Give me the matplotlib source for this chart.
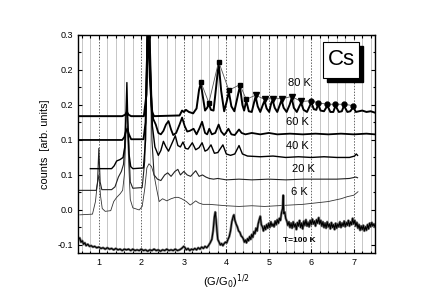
import numpy as np
import matplotlib
matplotlib.use("Agg")
import matplotlib.pyplot as plt
from matplotlib.patches import Rectangle

plt.rcParams['font.family'] = ['Liberation Sans', 'DejaVu Sans']

# spectra (x = (G/G0)^1/2, y = counts, already offset as in the figure)
k80_x = [0.5, 1.55, 1.62, 1.66, 1.70, 1.76, 2.06, 2.12, 2.16, 2.20, 2.25, 2.30, 2.9, 2.96, 3.0, 3.05,
         3.12, 3.22, 3.30, 3.36, 3.40, 3.44, 3.50, 3.55, 3.59, 3.64, 3.70, 3.76, 3.82, 3.88, 3.95,
         4.01, 4.06, 4.12, 4.19, 4.26, 4.32, 4.38, 4.42, 4.47, 4.53, 4.60, 4.66, 4.69, 4.74, 4.80,
         4.86, 4.90, 4.95, 5.01, 5.06, 5.09, 5.14, 5.20, 5.26, 5.30, 5.35, 5.42, 5.49, 5.54, 5.59,
         5.66, 5.72, 5.76, 5.82, 5.90, 5.96, 6.0, 6.06, 6.12, 6.16, 6.22, 6.30, 6.38, 6.45, 6.52,
         6.57, 6.65, 6.72, 6.77, 6.85, 6.92, 6.99, 7.05, 7.2, 7.3, 7.4, 7.5]
k80_y = [0.184, 0.184, 0.186, 0.190, 0.186, 0.184, 0.184, 0.215, 0.32, 0.24, 0.19, 0.184, 0.185, 0.192,
         0.190, 0.193, 0.190, 0.188, 0.195, 0.222, 0.231, 0.215, 0.192, 0.196, 0.201, 0.193, 0.192,
         0.225, 0.260, 0.220, 0.191, 0.205, 0.219, 0.198, 0.191, 0.210, 0.227, 0.200, 0.192, 0.206,
         0.191, 0.190, 0.205, 0.212, 0.198, 0.190, 0.200, 0.206, 0.195, 0.190, 0.203, 0.207, 0.196,
         0.190, 0.200, 0.207, 0.196, 0.190, 0.200, 0.210, 0.196, 0.190, 0.198, 0.203, 0.193, 0.190,
         0.198, 0.204, 0.194, 0.193, 0.201, 0.192, 0.191, 0.199, 0.190, 0.190, 0.199, 0.190, 0.191,
         0.199, 0.190, 0.191, 0.197, 0.190, 0.192, 0.190, 0.191, 0.189]

k60_x = [0.5, 1.55, 1.60, 1.64, 1.67, 1.71, 1.76, 2.05, 2.10, 2.15, 2.20, 2.24, 2.28, 2.34, 2.40,
         2.46, 2.52, 2.58, 2.64, 2.70, 2.75, 2.82, 2.90, 2.96, 3.02, 3.08, 3.14, 3.23, 3.30, 3.37,
         3.43, 3.50, 3.55, 3.60, 3.66, 3.74, 3.82, 3.88, 3.95, 4.00, 4.05, 4.12, 4.20, 4.30, 4.36,
         4.45, 4.6, 4.8, 5.0, 5.2, 5.5, 5.8, 6.1, 6.4, 6.7, 7.0, 7.3, 7.5]
k60_y = [0.150, 0.150, 0.154, 0.163, 0.166, 0.158, 0.151, 0.151, 0.175, 0.32, 0.26, 0.20, 0.180,
         0.172, 0.160, 0.158, 0.163, 0.172, 0.177, 0.165, 0.157, 0.160, 0.172, 0.182, 0.170, 0.162,
         0.163, 0.166, 0.158, 0.167, 0.176, 0.160, 0.158, 0.166, 0.158, 0.160, 0.172, 0.162, 0.157,
         0.161, 0.166, 0.158, 0.157, 0.165, 0.160, 0.158, 0.160, 0.158, 0.160, 0.158, 0.159, 0.158,
         0.159, 0.158, 0.159, 0.158, 0.159, 0.158]

k40_x = [0.80, 1.30, 1.36, 1.42, 1.50, 1.57, 1.61, 1.64, 1.66, 1.68, 1.71, 1.75, 1.80, 2.05, 2.10,
         2.15, 2.20, 2.26, 2.32, 2.40, 2.46, 2.52, 2.58, 2.64, 2.72, 2.80, 2.86, 2.92, 2.98, 3.04,
         3.10, 3.20, 3.28, 3.36, 3.43, 3.50, 3.56, 3.64, 3.72, 3.80, 3.92, 4.00, 4.10, 4.20, 4.30,
         4.38, 4.5, 4.8, 5.1, 5.4, 5.7, 6.0, 6.3, 6.6, 6.9, 7.02, 7.06, 7.09]
k40_y = [0.109, 0.109, 0.113, 0.120, 0.122, 0.125, 0.140, 0.190, 0.232, 0.180, 0.130, 0.112, 0.109,
         0.110, 0.150, 0.32, 0.30, 0.17, 0.140, 0.128, 0.135, 0.148, 0.140, 0.134, 0.145, 0.156,
         0.142, 0.140, 0.147, 0.138, 0.137, 0.146, 0.136, 0.139, 0.146, 0.134, 0.136, 0.143, 0.131,
         0.132, 0.143, 0.130, 0.128, 0.130, 0.142, 0.130, 0.127, 0.126, 0.127, 0.125, 0.126, 0.125,
         0.126, 0.125, 0.125, 0.127, 0.130, 0.128]

k20_x = [0.5, 0.94, 0.97, 1.00, 1.03, 1.07, 1.30, 1.38, 1.46, 1.53, 1.58, 1.62, 1.66, 1.70, 1.74,
         1.80, 2.02, 2.08, 2.14, 2.20, 2.25, 2.30, 2.38, 2.46, 2.55, 2.62, 2.70, 2.79, 2.86, 2.92,
         3.00, 3.08, 3.16, 3.22, 3.28, 3.36, 3.44, 3.52, 3.60, 3.70, 3.80, 4.0, 4.3, 4.6, 5.0, 5.4,
         5.8, 6.2, 6.6, 6.9, 7.05, 7.09]
k20_y = [0.078, 0.078, 0.090, 0.138, 0.090, 0.079, 0.079, 0.083, 0.097, 0.105, 0.115, 0.150, 0.205,
         0.150, 0.090, 0.081, 0.082, 0.120, 0.32, 0.30, 0.15, 0.100, 0.094, 0.092, 0.100, 0.103,
         0.098, 0.105, 0.108, 0.100, 0.105, 0.100, 0.098, 0.102, 0.106, 0.098, 0.100, 0.097, 0.095,
         0.094, 0.095, 0.093, 0.094, 0.093, 0.094, 0.093, 0.094, 0.094, 0.094, 0.095, 0.097, 0.096]

k6_x = [0.55, 0.85, 0.92, 0.96, 1.00, 1.04, 1.08, 1.15, 1.28, 1.35, 1.42, 1.50, 1.56, 1.60, 1.64,
        1.67, 1.70, 1.74, 1.80, 1.95, 2.02, 2.08, 2.13, 2.18, 2.24, 2.30, 2.36, 2.42, 2.50, 2.60,
        2.70, 2.80, 2.87, 2.95, 3.06, 3.15, 3.22, 3.28, 3.35, 3.45, 3.6, 3.8, 4.0, 4.3, 4.6, 4.9,
        5.2, 5.5, 5.8, 6.1, 6.4, 6.7, 6.85, 7.0, 7.1]
k6_y = [0.043, 0.044, 0.062, 0.085, 0.100, 0.070, 0.052, 0.048, 0.049, 0.062, 0.068, 0.073, 0.078,
        0.100, 0.160, 0.170, 0.120, 0.065, 0.053, 0.050, 0.055, 0.080, 0.110, 0.116, 0.112, 0.100,
        0.080, 0.062, 0.066, 0.063, 0.066, 0.068, 0.068, 0.066, 0.062, 0.057, 0.060, 0.063, 0.060,
        0.058, 0.058, 0.057, 0.056, 0.055, 0.056, 0.055, 0.056, 0.057, 0.058, 0.060, 0.062, 0.066,
        0.069, 0.071, 0.076]

# T = 100 K trace
t100 = [
    (0.50, 0.013), (0.52, 0.008), (0.55, 0.010), (0.58, 0.004), (0.61, 0.006), (0.64, 0.001),
    (0.67, 0.003), (0.70, -0.001), (0.74, 0.001), (0.78, -0.002), (0.82, -0.001), (0.86, -0.003),
    (0.90, -0.002), (0.95, -0.004), (1.00, -0.003), (1.05, -0.005), (1.10, -0.004), (1.15, -0.006),
    (1.20, -0.004), (1.25, -0.006), (1.30, -0.005), (1.35, -0.007), (1.40, -0.005), (1.45, -0.007),
    (1.50, -0.006), (1.55, -0.008), (1.60, -0.006), (1.65, -0.007), (1.70, -0.006), (1.75, -0.008),
    (1.80, -0.006), (1.85, -0.008), (1.90, -0.007), (1.95, -0.008), (2.00, -0.006), (2.05, -0.008),
    (2.10, -0.007), (2.15, -0.009), (2.20, -0.007), (2.25, -0.008), (2.30, -0.006), (2.35, -0.008),
    (2.40, -0.007), (2.45, -0.009), (2.50, -0.007), (2.55, -0.008), (2.60, -0.006), (2.65, -0.008),
    (2.70, -0.007), (2.75, -0.008), (2.80, -0.006), (2.85, -0.008), (2.90, -0.007), (2.95, -0.005),
    (3.00, -0.002), (3.03, -0.004), (3.06, -0.007), (3.10, -0.005), (3.14, -0.008), (3.18, -0.006),
    (3.22, -0.007), (3.26, -0.005), (3.30, -0.007), (3.34, -0.004), (3.38, -0.006), (3.42, -0.003),
    (3.46, -0.005), (3.50, -0.002), (3.54, -0.004), (3.58, -0.001), (3.62, 0.003), (3.66, 0.008),
    (3.69, 0.020), (3.72, 0.040), (3.74, 0.047), (3.76, 0.036), (3.78, 0.020), (3.80, 0.008),
    (3.83, 0.004), (3.86, 0.000), (3.89, 0.002), (3.92, -0.001), (3.95, 0.002), (3.98, 0.004),
    (4.01, 0.003), (4.04, 0.008), (4.07, 0.012), (4.10, 0.020), (4.13, 0.033), (4.16, 0.040),
    (4.18, 0.043), (4.20, 0.036), (4.23, 0.030), (4.26, 0.026), (4.29, 0.020), (4.32, 0.018),
    (4.35, 0.013), (4.38, 0.011), (4.400, 0.009), (4.425, 0.004), (4.450, 0.007), (4.475, 0.003),
    (4.500, 0.009), (4.525, 0.006), (4.550, 0.012), (4.575, 0.008), (4.600, 0.015), (4.625, 0.011),
    (4.650, 0.019), (4.675, 0.016), (4.700, 0.024), (4.725, 0.020), (4.750, 0.030), (4.775, 0.036),
    (4.800, 0.041), (4.825, 0.029), (4.850, 0.026), (4.875, 0.020), (4.900, 0.027), (4.925, 0.022),
    (4.950, 0.029), (4.975, 0.024), (5.000, 0.031), (5.025, 0.025), (5.050, 0.033), (5.075, 0.027),
    (5.100, 0.030), (5.125, 0.026), (5.150, 0.034), (5.175, 0.029), (5.200, 0.036), (5.225, 0.031),
    (5.250, 0.038), (5.275, 0.035), (5.300, 0.046), (5.325, 0.052), (5.340, 0.071), (5.355, 0.045),
    (5.375, 0.047), (5.400, 0.038), (5.425, 0.034), (5.450, 0.028), (5.475, 0.033), (5.500, 0.025),
    (5.525, 0.031), (5.550, 0.024), (5.575, 0.033), (5.600, 0.026), (5.625, 0.030), (5.650, 0.022),
    (5.675, 0.032), (5.700, 0.027), (5.725, 0.035), (5.750, 0.025), (5.775, 0.031), (5.800, 0.023),
    (5.825, 0.034), (5.850, 0.028), (5.875, 0.036), (5.900, 0.027), (5.925, 0.032), (5.950, 0.026),
    (5.975, 0.035), (6.000, 0.029), (6.025, 0.037), (6.050, 0.030), (6.075, 0.034), (6.100, 0.027),
    (6.125, 0.036), (6.150, 0.031), (6.175, 0.039), (6.200, 0.030), (6.225, 0.035), (6.250, 0.027),
    (6.275, 0.033), (6.300, 0.025), (6.325, 0.031), (6.350, 0.024), (6.375, 0.033), (6.400, 0.026),
    (6.425, 0.030), (6.450, 0.023), (6.475, 0.032), (6.500, 0.025), (6.525, 0.029), (6.550, 0.022),
    (6.575, 0.031), (6.600, 0.024), (6.625, 0.030), (6.650, 0.026), (6.675, 0.033), (6.700, 0.025),
    (6.725, 0.031), (6.750, 0.027), (6.775, 0.034), (6.800, 0.026), (6.825, 0.032), (6.850, 0.028),
    (6.875, 0.035), (6.900, 0.027), (6.925, 0.033), (6.950, 0.029), (6.975, 0.038), (7.000, 0.030),
    (7.025, 0.035), (7.050, 0.027), (7.075, 0.032), (7.100, 0.024), (7.125, 0.029), (7.150, 0.021),
    (7.175, 0.027), (7.200, 0.022), (7.225, 0.028), (7.250, 0.020), (7.275, 0.026), (7.300, 0.021),
    (7.325, 0.029), (7.350, 0.023), (7.375, 0.031), (7.400, 0.026), (7.425, 0.032), (7.450, 0.027),
    (7.475, 0.030), (7.500, 0.026)]

# peak markers on the 80 K curve
sq_x = [3.40, 3.59, 3.82, 4.06, 4.32, 4.47]
sq_y = [0.233, 0.203, 0.262, 0.221, 0.229, 0.208]
tri_x = [4.69, 4.90, 5.09, 5.30, 5.54, 5.76]
tri_y = [0.214, 0.208, 0.209, 0.209, 0.212, 0.205]
dot_x = [6.0, 6.16, 6.38, 6.57, 6.77, 6.99]
dot_y = [0.206, 0.203, 0.201, 0.201, 0.201, 0.199]

ytick_pos = [0.0, 0.05, 0.10, 0.15, 0.20, 0.25, 0.30]
ytick_lab = ['-0.1', '0.0', '0.1', '0.1', '0.2', '0.2', '0.3']

fig = plt.figure(figsize=(4.36, 3.04), dpi=100)
ax = fig.add_axes([0.178, 0.168, 0.682, 0.717])

# grid: light lines every 0.2, dotted at integers
for g in np.arange(0.6, 7.5, 0.2):
    if abs(g - round(g)) < 1e-6:
        ax.axvline(g, color='#666666', lw=0.7, ls=(0, (1.5, 1.5)), zorder=0)
    else:
        ax.axvline(g, color='#bdbdbd', lw=0.6, zorder=0)

ax.plot(k6_x, k6_y, color='#333333', lw=0.6)
ax.plot(k20_x, k20_y, color='#222222', lw=0.8)
ax.plot(k40_x, k40_y, color='black', lw=1.0)
ax.plot(k60_x, k60_y, color='black', lw=1.3)
ax.plot(k80_x, k80_y, color='black', lw=1.4)
tx, ty = zip(*t100)
ax.plot(tx, ty, color='#777777', lw=1.8)
ax.plot(tx, ty, color='black', lw=0.8)

mk_x = sq_x + tri_x + dot_x
mk_y = sq_y + tri_y + dot_y
ax.plot(mk_x, mk_y, color='#555555', lw=0.6, zorder=4)
ax.plot(sq_x, sq_y, 's', color='black', ms=3.5, zorder=5)
ax.plot(tri_x, tri_y, 'v', color='black', ms=4, zorder=5)
ax.plot(dot_x, dot_y, 'o', color='black', ms=3.5, zorder=5)

ax.set_xlim(0.5, 7.5)
ax.set_ylim(-0.0114, 0.3)
ax.set_xticks([1, 2, 3, 4, 5, 6, 7])
ax.set_xticks(np.arange(0.6, 7.5, 0.2), minor=True)
ax.set_yticks(ytick_pos)
ax.set_yticklabels(ytick_lab)
ax.set_yticks(np.arange(0.0, 0.3, 0.025), minor=True)
ax.tick_params(which='both', direction='in', top=True, right=True, labelsize=6.5, width=0.8)
ax.tick_params(which='major', length=3)
ax.tick_params(which='minor', length=1.8)
for s in ax.spines.values():
    s.set_linewidth(1.0)

ax.set_xlabel('(G/G$_0$)$^{1/2}$', fontsize=8, labelpad=4)
ax.set_ylabel('counts  [arb. units]', fontsize=7.8, labelpad=5)

ax.text(5.72, 0.231, '80 K', fontsize=8, ha='center', va='center')
ax.text(5.67, 0.176, '60 K', fontsize=8, ha='center', va='center')
ax.text(5.67, 0.142, '40 K', fontsize=8, ha='center', va='center')
ax.text(5.82, 0.109, '20 K', fontsize=8, ha='center', va='center')
ax.text(5.72, 0.075, '6 K', fontsize=8, ha='center', va='center')
ax.text(5.72, 0.006, 'T=100 K', fontsize=6, fontweight='bold', ha='center', va='center')

# "Cs" box with shadow
ax.add_patch(Rectangle((0.838, 0.785), 0.121, 0.165, transform=ax.transAxes,
                       facecolor='black', edgecolor='black', zorder=6))
ax.add_patch(Rectangle((0.825, 0.803), 0.121, 0.165, transform=ax.transAxes,
                       facecolor='white', edgecolor='black', lw=0.8, zorder=7))
ax.text(0.886, 0.886, 'Cs', transform=ax.transAxes, fontsize=16, ha='center', va='center',
        zorder=8)

fig.savefig('out.png', dpi=100)
